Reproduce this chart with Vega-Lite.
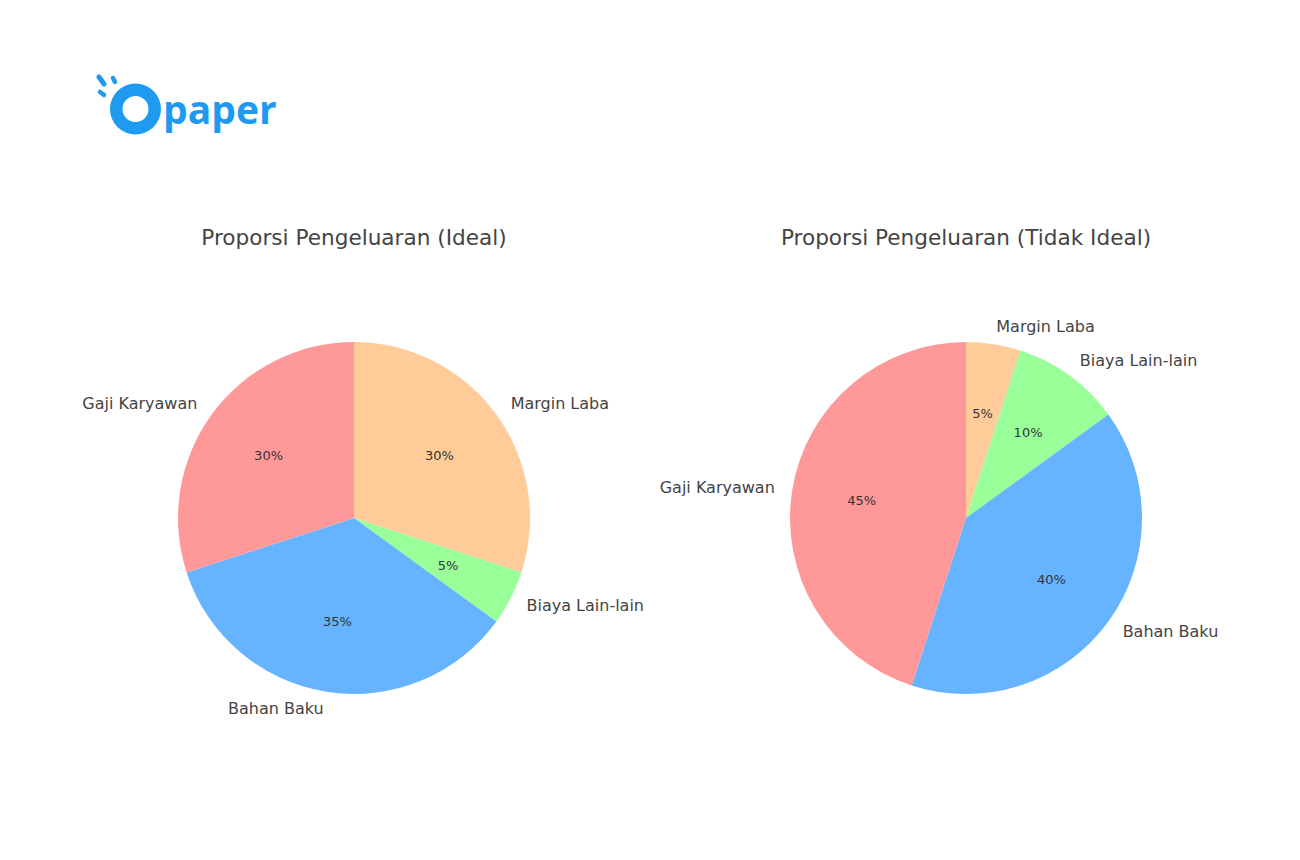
{
  "$schema": "https://vega.github.io/schema/vega-lite/v6.json",
  "padding": {"left": 54, "top": 60, "right": 0, "bottom": 0},
  "bounds": "flush",
  "spacing": 128,
  "config": {
    "view": {"stroke": null},
    "font": "DejaVu Sans",
    "title": {"fontSize": 21.6, "fontWeight": "normal", "color": "#444444", "offset": 18, "baseline": "bottom", "frame": "group"}
  },
  "datasets": {
    "ideal": [
      {"kategori": "Margin Laba", "porsi": 0.30, "urutan": 1},
      {"kategori": "Biaya Lain-lain", "porsi": 0.05, "urutan": 2},
      {"kategori": "Bahan Baku", "porsi": 0.35, "urutan": 3},
      {"kategori": "Gaji Karyawan", "porsi": 0.30, "urutan": 4}
    ],
    "tidak_ideal": [
      {"kategori": "Margin Laba", "porsi": 0.05, "urutan": 1},
      {"kategori": "Biaya Lain-lain", "porsi": 0.10, "urutan": 2},
      {"kategori": "Bahan Baku", "porsi": 0.40, "urutan": 3},
      {"kategori": "Gaji Karyawan", "porsi": 0.45, "urutan": 4}
    ]
  },
  "vconcat": [
    {
      "width": 300,
      "height": 80,
      "data": {"values": [{"teks": "paper"}]},
      "layer": [
        {
          "mark": {"type": "arc", "outerRadius": 25.5, "innerRadius": 13, "theta": 0, "theta2": 6.2832, "color": "#1e9bf0"},
          "encoding": {
            "x": {"datum": 81.5, "type": "quantitative", "scale": {"domain": [0, 300]}, "axis": null},
            "y": {"datum": 49, "type": "quantitative", "scale": {"domain": [0, 80], "reverse": true}, "axis": null}
          }
        },
        {
          "mark": {"type": "rule", "strokeWidth": 5, "strokeCap": "round", "color": "#1e9bf0"},
          "encoding": {
            "x": {"datum": 45, "type": "quantitative"},
            "y": {"datum": 17, "type": "quantitative"},
            "x2": {"datum": 50},
            "y2": {"datum": 24}
          }
        },
        {
          "mark": {"type": "rule", "strokeWidth": 4.5, "strokeCap": "round", "color": "#1e9bf0"},
          "encoding": {
            "x": {"datum": 59, "type": "quantitative"},
            "y": {"datum": 18, "type": "quantitative"},
            "x2": {"datum": 61},
            "y2": {"datum": 22}
          }
        },
        {
          "mark": {"type": "rule", "strokeWidth": 4.5, "strokeCap": "round", "color": "#1e9bf0"},
          "encoding": {
            "x": {"datum": 46, "type": "quantitative"},
            "y": {"datum": 32, "type": "quantitative"},
            "x2": {"datum": 50},
            "y2": {"datum": 35}
          }
        },
        {
          "mark": {"type": "text", "font": "Open Sans", "fontWeight": "bold", "fontSize": 39, "align": "left", "baseline": "alphabetic", "color": "#1e9bf0"},
          "encoding": {
            "x": {"datum": 109, "type": "quantitative"},
            "y": {"datum": 64, "type": "quantitative"},
            "text": {"field": "teks"}
          }
        }
      ]
    },
    {
      "hconcat": [
        {
          "title": "Proporsi Pengeluaran (Ideal)",
          "width": 600,
          "height": 500,
          "data": {"name": "ideal"},
          "encoding": {
            "theta": {"field": "porsi", "type": "quantitative", "stack": true},
            "order": {"field": "urutan", "type": "quantitative"},
            "detail": {"field": "kategori"}
          },
          "layer": [
            {
              "mark": {"type": "arc", "radius": 176},
              "encoding": {
                "color": {
                  "field": "kategori",
                  "type": "nominal",
                  "scale": {
                    "domain": ["Gaji Karyawan", "Bahan Baku", "Biaya Lain-lain", "Margin Laba"],
                    "range": ["#ff9999", "#66b3ff", "#99ff99", "#ffcc99"]
                  },
                  "legend": null
                }
              }
            },
            {
              "mark": {"type": "text", "radius": 105.6, "fontSize": 13},
              "encoding": {
                "text": {"field": "porsi", "type": "quantitative", "format": ".0%"},
                "color": {"value": "#333333"}
              }
            },
            {
              "mark": {"type": "text", "radius": 193.6, "fontSize": 16, "align": "left"},
              "encoding": {
                "text": {"field": "kategori"},
                "color": {"value": "#444444"},
                "opacity": {"condition": {"test": "(datum.porsi_start + datum.porsi_end) / 2 < 0.5", "value": 1}, "value": 0}
              }
            },
            {
              "mark": {"type": "text", "radius": 193.6, "fontSize": 16, "align": "right"},
              "encoding": {
                "text": {"field": "kategori"},
                "color": {"value": "#444444"},
                "opacity": {"condition": {"test": "(datum.porsi_start + datum.porsi_end) / 2 >= 0.5", "value": 1}, "value": 0}
              }
            }
          ]
        },
        {
          "title": "Proporsi Pengeluaran (Tidak Ideal)",
          "width": 600,
          "height": 500,
          "data": {"name": "tidak_ideal"},
          "encoding": {
            "theta": {"field": "porsi", "type": "quantitative", "stack": true},
            "order": {"field": "urutan", "type": "quantitative"},
            "detail": {"field": "kategori"}
          },
          "layer": [
            {
              "mark": {"type": "arc", "radius": 176},
              "encoding": {
                "color": {
                  "field": "kategori",
                  "type": "nominal",
                  "scale": {
                    "domain": ["Gaji Karyawan", "Bahan Baku", "Biaya Lain-lain", "Margin Laba"],
                    "range": ["#ff9999", "#66b3ff", "#99ff99", "#ffcc99"]
                  },
                  "legend": null
                }
              }
            },
            {
              "mark": {"type": "text", "radius": 105.6, "fontSize": 13},
              "encoding": {
                "text": {"field": "porsi", "type": "quantitative", "format": ".0%"},
                "color": {"value": "#333333"}
              }
            },
            {
              "mark": {"type": "text", "radius": 193.6, "fontSize": 16, "align": "left"},
              "encoding": {
                "text": {"field": "kategori"},
                "color": {"value": "#444444"},
                "opacity": {"condition": {"test": "(datum.porsi_start + datum.porsi_end) / 2 < 0.5", "value": 1}, "value": 0}
              }
            },
            {
              "mark": {"type": "text", "radius": 193.6, "fontSize": 16, "align": "right"},
              "encoding": {
                "text": {"field": "kategori"},
                "color": {"value": "#444444"},
                "opacity": {"condition": {"test": "(datum.porsi_start + datum.porsi_end) / 2 >= 0.5", "value": 1}, "value": 0}
              }
            }
          ]
        }
      ],
      "spacing": 12,
      "bounds": "flush"
    }
  ]
}
